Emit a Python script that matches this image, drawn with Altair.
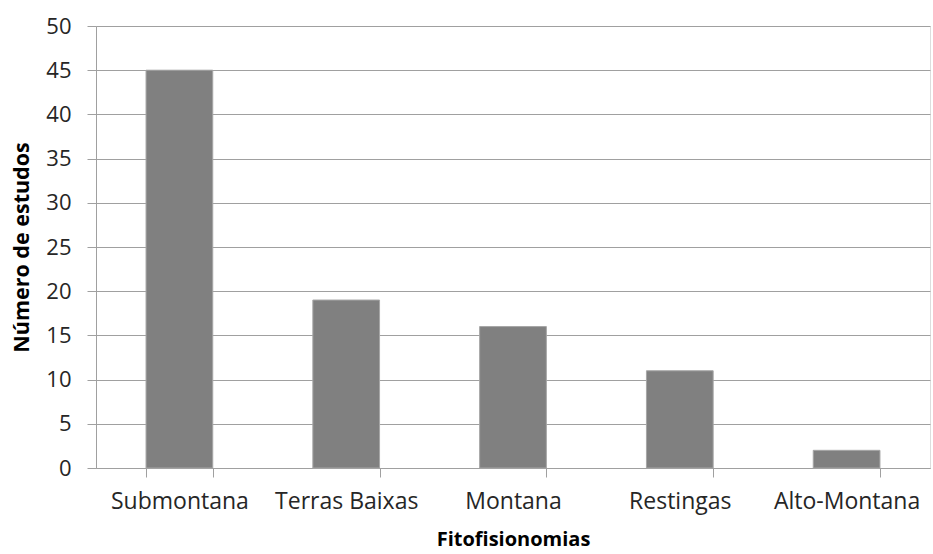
import altair as alt
import pandas as pd

categories = ["Submontana", "Terras Baixas", "Montana", "Restingas", "Alto-Montana"]
values = [45, 19, 16, 11, 2]
y_ticks = [0, 5, 10, 15, 20, 25, 30, 35, 40, 45, 50]

df = pd.DataFrame({"cat": categories, "val": values})

font = "Open Sans"

chart = alt.Chart(df).mark_bar(color="#808080", stroke="#a6a6a6", strokeWidth=1).encode(
    x=alt.X("cat:N", sort=categories,
            scale=alt.Scale(paddingInner=0.6, paddingOuter=0.3),
            axis=alt.Axis(title="Fitofisionomias", labelAngle=0, tickBand="extent",
                          tickSize=9, labelPadding=13, titlePadding=16,
                          labelFontSize=23, titleFontSize=20, titleFontWeight="bold",
                          labelColor="#262626", titleColor="#000000",
                          domainColor="#a0a0a0", tickColor="#a0a0a0",
                          labelFont=font, titleFont=font, grid=False)),
    y=alt.Y("val:Q", scale=alt.Scale(domain=[0, 50]),
            axis=alt.Axis(title="Número de estudos", values=y_ticks, tickSize=9,
                          labelPadding=16, titlePadding=12,
                          labelFontSize=22, titleFontSize=21.5, titleFontWeight="bold",
                          labelColor="#262626", titleColor="#000000",
                          domainColor="#a0a0a0", tickColor="#a0a0a0",
                          gridColor="#a0a0a0", grid=True,
                          labelFont=font, titleFont=font)),
).properties(
    width=834, height=442,
    autosize=alt.AutoSizeParams(type="none"),
    padding={"left": 96, "top": 26, "right": 3, "bottom": 86},
).configure_view(stroke=None).configure(background="white")

chart.save("out.html", embed_options={"renderer": "svg", "actions": False})
